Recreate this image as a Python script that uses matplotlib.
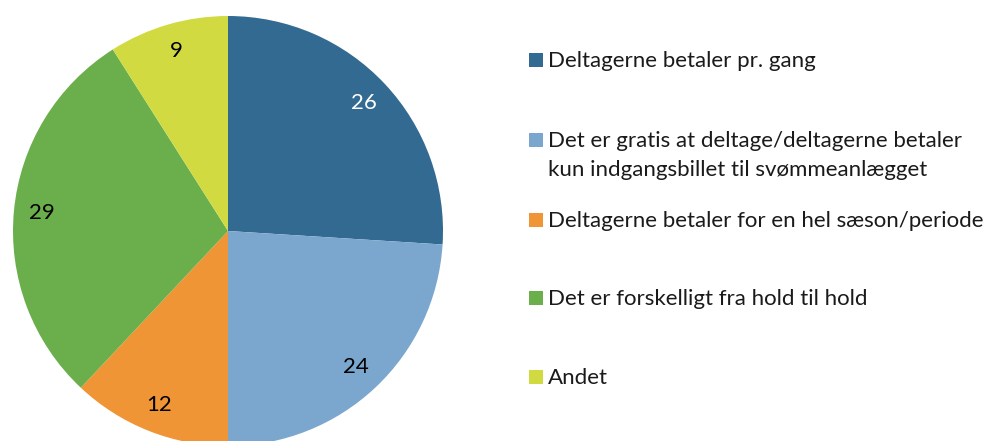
import matplotlib
matplotlib.use("Agg")
import matplotlib.pyplot as plt
from matplotlib.patches import Rectangle

categories = [
    "Deltagerne betaler pr. gang",
    "Det er gratis at deltage/deltagerne betaler\nkun indgangsbillet til svømmeanlægget",
    "Deltagerne betaler for en hel sæson/periode",
    "Det er forskelligt fra hold til hold",
    "Andet",
]
values = [26, 24, 12, 29, 9]
colors = ["#336A91", "#7BA7CF", "#EF9535", "#6AAF4B", "#D1DB41"]
label_colors = ["white", "black", "black", "black", "black"]

W, H = 988, 441
fig = plt.figure(figsize=(W / 100, H / 100), dpi=100)
ax = fig.add_axes([0, 0, 1, 1])

font = "Lato"
fs = 16

cx, cy, r = 228, H - 231, 215
wedges, texts = ax.pie(
    values,
    colors=colors,
    startangle=90,
    counterclock=False,
    center=(cx, cy),
    radius=r,
    labels=[str(v) for v in values],
    labeldistance=0.87,
    frame=True,
    wedgeprops=dict(linewidth=0),
    textprops=dict(fontsize=fs, family=font),
)
for t, c in zip(texts, label_colors):
    t.set_color(c)
    t.set_ha("center")
    t.set_va("center")
ax.set_xlim(0, W)
ax.set_ylim(0, H)
ax.set_aspect("equal")
ax.axis("off")

# legend
ys = [60, 140, 220, 298, 377]
line_step = 29
for lab, col, y in zip(categories, colors, ys):
    yy = H - y
    ax.add_patch(Rectangle((529, yy - 7), 14, 14, facecolor=col, edgecolor="none"))
    for i, line in enumerate(lab.split("\n")):
        ax.text(548, yy - 7 - i * line_step, line, fontsize=fs, family=font,
                color="#1a1a1a", ha="left", va="baseline")

fig.savefig("out.png", dpi=100)
